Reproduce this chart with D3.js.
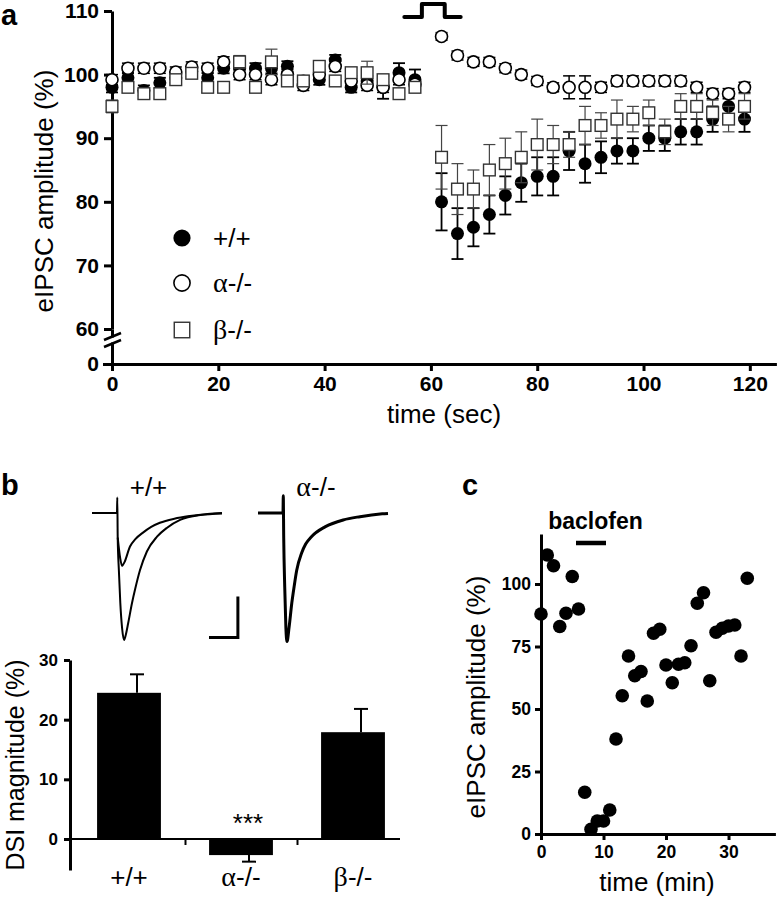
<!DOCTYPE html>
<html><head><meta charset="utf-8">
<script src="https://cdn.jsdelivr.net/npm/d3@7"></script>
<style>
body{margin:0;background:#fff;}
svg{display:block;}
</style></head><body>
<svg id="fig" width="778" height="899"></svg>
<script>
// ---------------- Panel a data ----------------
const timeA = [0,3,6,9,12,15,18,21,24,27,30,33,36,39,42,45,48,51,54,57,
               62,65,68,71,74,77,80,83,86,89,92,95,98,101,104,107,110,113,116,119];
const wtMean = [98,99.5,97.5,98.7,99.5,100.5,99.5,101,101,101,101,101.3,99,99.2,102.3,98,99,98,100.3,99.2,
                80,75,76,78,81,83,84,84,88,86,87,88,88,90,90,91,91,93,95,93];
const wtSem  = [0.8,0.8,0.8,0.8,0.8,0.8,0.8,0.8,0.8,0.8,0.8,0.8,0.8,0.8,0.8,0.8,0.8,1.8,1.5,1.6,
                4.5,4,3,3,3,3,3,3,3,3,2.5,2,2,2,2,2,2,2,1.5,2];
const alphaMean = [99.2,101,101,101,100.4,101.2,101,102,100,100,99.2,100,98.3,100,101.3,99,98.3,98,99.2,98.5,
                   106,103,102,102,101,100,99,98,98,98,98,99,99,99,99,99,98,97,97,98];
const alphaSem  = [0.8,0.8,0.8,0.8,0.8,0.8,0.8,0.8,0.8,0.8,0.8,0.8,0.8,0.8,0.8,0.8,0.8,0.8,0.8,0.8,
                   0.6,0.7,0.7,0.7,0.7,0.7,0.7,0.7,1.8,1.8,0.8,0.8,0.8,0.8,0.8,0.8,0.8,0.8,0.8,0.8];
const betaMean = [95,98,97,97,99.2,100.2,98,98,102,98,102,99,99,101.3,99,100.3,100.3,99.2,97,98,
                  87,82,82,85,86,87,89,89,89,92,92,93,93,94,91,95,95,94,93,95];
const betaSem  = [1,0.8,0.8,0.8,0.8,0.8,0.8,0.8,1,0.8,2,0.8,0.8,0.8,0.8,0.8,1.8,0.8,0.8,0.8,
                  5,4,3,4,4,4,4,3,2,3,2,3,2,2,2,2,2,2,2,2];
const yTicksA = [60,70,80,90,100,110];
const xTicksA = [0,20,40,60,80,100,120];
const legendA = ["+/+","α-/-","β-/-"];
const stimT = [55,58.3,58.3,62.6,62.6,65.6];
const stimV = [109.05,109.05,111.1,111.1,109.05,109.05];

// ---------------- Panel b data ----------------
const catsB = ["+/+","α-/-","β-/-"];
const dsiMean = [24.5,-2.7,17.9];
const dsiSem  = [3.1,1.1,3.9];
const yTicksB = [0,10,20,30];
// example traces (ms, nA)
const wtBigT = [0,17.3,17.5,17.8,18.6,19.6,20.8,22.2,23.5,25,27.7,30,33.2,38,45,52,61,75,90];
const wtBigI = [0,0,0.19,-0.3,-0.7,-1.1,-1.4,-1.55,-1.48,-1.35,-1.1,-0.92,-0.7,-0.47,-0.29,-0.18,-0.085,-0.025,-0.005];
const wtSmallT = [17.8,19.5,20.8,22.5,26.3,30,35.3,41,47,57,67.8,80,90];
const wtSmallI = [-0.3,-0.55,-0.646,-0.6,-0.41,-0.32,-0.24,-0.17,-0.12,-0.07,-0.037,-0.012,0];
const koT = [0,17.3,17.5,17.8,18.5,19.3,20.1,21.5,23.4,25,26.8,30.2,33,37,46.4,59,70.6,86,90];
const koI = [0,0,0.21,-0.3,-0.9,-1.4,-1.57,-1.4,-1.1,-0.9,-0.7,-0.49,-0.38,-0.29,-0.17,-0.085,-0.045,-0.01,-0.005];
const scaleBarT = [81,101,101];   // 20 ms
const scaleBarI = [-1.52,-1.52,-1.02]; // 0.5 nA

// ---------------- Panel c data ----------------
const timeC = [0,1,2,3,4,5,6,7,8,9,10,11,12,13,14,15,16,17,18,19,20,21,22,23,24,25,26,27,28,29,30,31,32,33];
const ampC  = [88,111.6,107.3,83,88.3,103,90,16.7,1.9,5.2,5.2,9.6,38,55.3,71.2,63.3,65,53.2,80.3,81.9,
               67.6,60.5,67.9,68.5,75.3,92.3,96.5,61.3,80.7,82.3,83.2,83.6,71.2,102.3];
const xTicksC = [0,10,20,30];
const yTicksC = [0,25,50,75,100];
const baclofenT = [5.6,10.4];

// ---------------- drawing ----------------
const FONT = '"Liberation Sans", Arial, Helvetica, sans-serif';
const SERIF = '"Liberation Serif", "Times New Roman", serif';
const svg = d3.select('#fig').style('font-family', FONT);

function styleAxis(g, fs){
  g.selectAll('path.domain').attr('stroke','#000').attr('stroke-width',3);
  g.selectAll('.tick line').attr('stroke','#000').attr('stroke-width',3);
  g.selectAll('.tick text').attr('fill','#000').style('font-family',FONT)
    .style('font-weight','bold').style('font-size',fs+'px');
}
function mixedLabel(sel, str, size){
  const first = str[0];
  if (first === 'α' || first === 'β') {
    sel.append('tspan').style('font-family',SERIF).style('font-size',(size*1.08)+'px').text(first);
    sel.append('tspan').text(str.slice(1));
  } else sel.text(str);
}

// ===== Panel a =====
const xA = d3.scaleLinear().domain([0,125]).range([112,776.4]);
const yA = d3.scaleLinear().domain([60,110]).range([329,11]);
const yA0 = d3.scaleLinear().domain([0,60]).range([364,329]);
const gA = svg.append('g');

const axY = gA.append('g').attr('transform','translate(112,0)')
  .call(d3.axisLeft(yA).tickValues(yTicksA).tickSize(8).tickSizeOuter(0).tickPadding(5));
styleAxis(axY,21);
const axY0 = gA.append('g').attr('transform','translate(112,0)')
  .call(d3.axisLeft(yA0).tickValues([0]).tickSize(9).tickSizeOuter(0).tickPadding(4));
styleAxis(axY0,21);
const axX = gA.append('g').attr('transform','translate(0,364)')
  .call(d3.axisBottom(xA).tickValues(xTicksA).tickSize(7).tickSizeOuter(0).tickPadding(5));
styleAxis(axX,21);
// axis break
gA.append('rect').attr('x',106).attr('y',337.5).attr('width',12).attr('height',5).attr('fill','#fff');
gA.append('line').attr('x1',104).attr('y1',340).attr('x2',121).attr('y2',333).attr('stroke','#000').attr('stroke-width',2.5);
gA.append('line').attr('x1',104).attr('y1',347).attr('x2',121).attr('y2',340).attr('stroke','#000').attr('stroke-width',2.5);

// stimulus step
gA.append('path').datum(stimT.map((t,i)=>[t,stimV[i]]))
  .attr('d', d3.line().x(d=>xA(d[0])).y(d=>yA(d[1])))
  .attr('fill','none').attr('stroke','#000').attr('stroke-width',4)
  .attr('stroke-linejoin','round').attr('stroke-linecap','round');

const seriesA = [
  {mean: wtMean, sem: wtSem, shape:'filled', ecol:'#000', ew:1.8},
  {mean: alphaMean, sem: alphaSem, shape:'open', ecol:'#000', ew:1.5},
  {mean: betaMean, sem: betaSem, shape:'square', ecol:'#444', ew:1.2}
];
function drawMarker(g, shape, cx, cy, r){
  if (shape==='filled') g.append('circle').attr('cx',cx).attr('cy',cy).attr('r',r).attr('fill','#000');
  else if (shape==='open') g.append('circle').attr('cx',cx).attr('cy',cy).attr('r',r-0.5).attr('fill','#fff').attr('stroke','#000').attr('stroke-width',1.6);
  else g.append('rect').attr('x',cx-r*0.9).attr('y',cy-r*0.9).attr('width',r*1.8).attr('height',r*1.8)
        .attr('fill','#fff').attr('stroke','#333').attr('stroke-width',1.4);
}
seriesA.forEach(s=>{
  const g = gA.append('g');
  timeA.forEach((t,i)=>{
    const x = xA(t), y1 = yA(s.mean[i]+s.sem[i]), y2 = yA(s.mean[i]-s.sem[i]);
    g.append('line').attr('x1',x).attr('x2',x).attr('y1',y1).attr('y2',y2).attr('stroke',s.ecol).attr('stroke-width',s.ew);
    [y1,y2].forEach(yy=>g.append('line').attr('x1',x-6).attr('x2',x+6).attr('y1',yy).attr('y2',yy).attr('stroke',s.ecol).attr('stroke-width',s.ew));
  });
  timeA.forEach((t,i)=> drawMarker(g, s.shape, xA(t), yA(s.mean[i]), 6.5));
});
// legend
const legY = [238,283,330];
['filled','open','square'].forEach((sh,i)=>{
  drawMarker(gA, sh, 182, legY[i], 8.6);
  const tx = gA.append('text').attr('x',213).attr('y',legY[i]+9).style('font-size','26px').attr('fill','#000');
  mixedLabel(tx, legendA[i], 26);
});
// titles
gA.append('text').attr('transform','translate(53,191) rotate(-90)').attr('text-anchor','middle')
  .style('font-size','26px').text('eIPSC amplitude (%)');
gA.append('text').attr('x',444).attr('y',423).attr('text-anchor','middle').style('font-size','26px').text('time (sec)');
svg.append('text').attr('x',1).attr('y',25).style('font-size','29px').style('font-weight','bold').text('a');

// ===== Panel b =====
const gB = svg.append('g');
svg.append('text').attr('x',1).attr('y',495).style('font-size','29px').style('font-weight','bold').text('b');
const xTw = d3.scaleLinear().domain([0,90]).range([92,222]);
const xTa = d3.scaleLinear().domain([0,90]).range([258,388]);
const yT = d3.scaleLinear().domain([-1.6,0.25]).range([644,492.5]);
function trace(xs, T, I, w){
  gB.append('path').datum(T.map((t,i)=>[t,I[i]]))
    .attr('d', d3.line().x(d=>xs(d[0])).y(d=>yT(d[1])).curve(d3.curveMonotoneX))
    .attr('fill','none').attr('stroke','#000').attr('stroke-width',w).attr('stroke-linejoin','round');
}
trace(xTw, wtBigT, wtBigI, 2);
trace(xTw, wtSmallT, wtSmallI, 2);
trace(xTa, koT, koI, 3);
gB.append('path').datum(scaleBarT.map((t,i)=>[t,scaleBarI[i]]))
  .attr('d', d3.line().x(d=>xTw(d[0])).y(d=>yT(d[1])))
  .attr('fill','none').attr('stroke','#000').attr('stroke-width',3);
gB.append('text').attr('x',148.5).attr('y',496).attr('text-anchor','middle').style('font-size','26px').text('+/+');
{ const t = gB.append('text').attr('x',316).attr('y',496).attr('text-anchor','middle').style('font-size','26px'); mixedLabel(t,'α-/-',26); }

// bar chart
const yB = d3.scaleLinear().domain([-5.2,30]).range([870,660]);
const xB = d3.scaleBand().domain(catsB).range([73,409]).paddingInner(0.43).paddingOuter(0.215);
const xBL = d3.scaleLinear().domain([0,3]).range([73,409]);
const axB = gB.append('g').attr('transform','translate(70,0)')
  .call(d3.axisLeft(yB).tickValues(yTicksB).tickSize(6).tickSizeOuter(0).tickPadding(6));
styleAxis(axB,17);
const axBx = gB.append('g').attr('transform',`translate(0,${yB(0)})`)
  .call(d3.axisBottom(xBL).tickValues([1,2]).tickSize(6).tickSizeOuter(0).tickFormat(''));
styleAxis(axBx,17);
axBx.select('path.domain').attr('stroke-width',2).attr('d','M70,0H400');
axBx.selectAll('.tick line').attr('stroke-width',2);
catsB.forEach((c,i)=>{
  const v = dsiMean[i], x = xB(c), w = xB.bandwidth();
  gB.append('rect').attr('x',x).attr('width',w).attr('y',yB(Math.max(0,v))).attr('height',Math.abs(yB(v)-yB(0))).attr('fill','#000');
  const ex = x + w/2 + 8;
  const end = v >= 0 ? v + dsiSem[i] : v - dsiSem[i];
  gB.append('line').attr('x1',ex).attr('x2',ex).attr('y1',yB(v)).attr('y2',yB(end)).attr('stroke','#000').attr('stroke-width',2);
  gB.append('line').attr('x1',ex-7).attr('x2',ex+7).attr('y1',yB(end)).attr('y2',yB(end)).attr('stroke','#000').attr('stroke-width',2);
  const t = gB.append('text').attr('x',x+w/2).attr('y',886).attr('text-anchor','middle').style('font-size','26px');
  mixedLabel(t,c,26);
});
gB.append('text').attr('x',xB(catsB[1])+xB.bandwidth()/2+7).attr('y',832).attr('text-anchor','middle').style('font-size','26px').text('***');
gB.append('text').attr('transform','translate(24,765) rotate(-90)').attr('text-anchor','middle')
  .style('font-size','25px').text('DSI magnitude (%)');

// ===== Panel c =====
const gC = svg.append('g');
svg.append('text').attr('x',462).attr('y',495).style('font-size','29px').style('font-weight','bold').text('c');
const xC = d3.scaleLinear().domain([0,37.5]).range([541,775.4]);
const yC = d3.scaleLinear().domain([0,120]).range([834,534]);
const axCy = gC.append('g').attr('transform','translate(541,0)')
  .call(d3.axisLeft(yC).tickValues(yTicksC).tickSize(6).tickSizeOuter(0).tickPadding(4));
styleAxis(axCy,17.5);
const axCx = gC.append('g').attr('transform','translate(0,834)')
  .call(d3.axisBottom(xC).tickValues(xTicksC).tickSize(6).tickSizeOuter(0).tickPadding(6));
styleAxis(axCx,17.5);
gC.selectAll('circle.pt').data(timeC).enter().append('circle').attr('class','pt')
  .attr('cx',(d)=>xC(d)).attr('cy',(d,i)=>yC(ampC[i])).attr('r',6.8).attr('fill','#000');
gC.append('line').attr('x1',xC(baclofenT[0])).attr('x2',xC(baclofenT[1])).attr('y1',yC(116.4)).attr('y2',yC(116.4))
  .attr('stroke','#000').attr('stroke-width',4.5);
gC.append('text').attr('x',595.5).attr('y',529).attr('text-anchor','middle').style('font-size','23px').style('font-weight','bold').text('baclofen');
gC.append('text').attr('transform','translate(485,697) rotate(-90)').attr('text-anchor','middle')
  .style('font-size','26px').text('eIPSC amplitude (%)');
gC.append('text').attr('x',657).attr('y',891).attr('text-anchor','middle').style('font-size','26px').text('time (min)');
</script>
</body></html>
